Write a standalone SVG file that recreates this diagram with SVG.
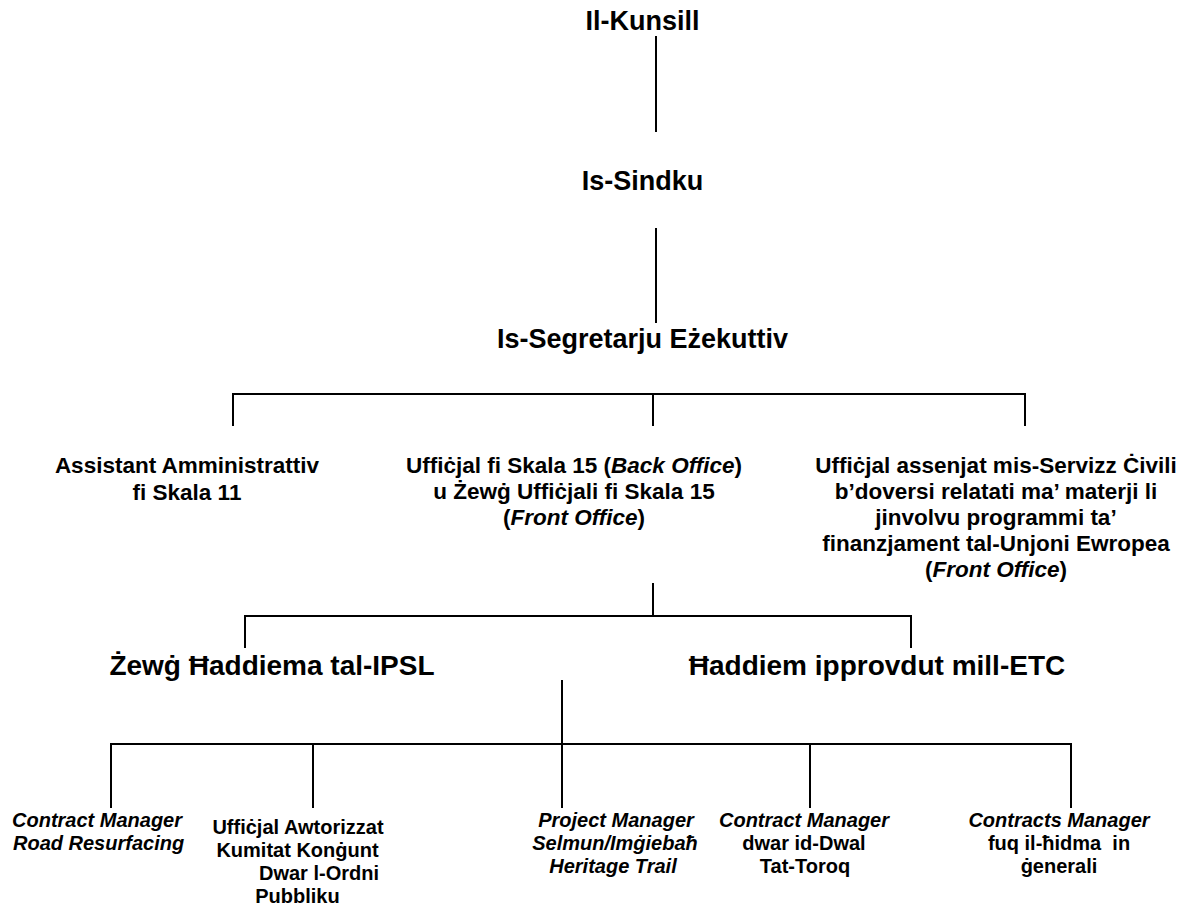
<svg xmlns="http://www.w3.org/2000/svg" width="1191" height="909" viewBox="0 0 1191 909">
<style>
  text { font-family: "Liberation Sans", Arial, sans-serif; font-weight: bold; fill: #000; white-space: pre; }
  .t1 { font-size: 27px; text-anchor: middle; }
  .t3 { font-size: 22.5px; text-anchor: middle; }
  .t4 { font-size: 28px; text-anchor: middle; }
  .t5 { font-size: 20px; text-anchor: middle; }
  .it { font-style: italic; }
  .conn line { stroke: #000; stroke-width: 2; fill: none; }
</style>
<rect width="1191" height="909" fill="#fff"/>
<g id="connectors" class="conn">
  <line x1="656" y1="36" x2="656" y2="132"/>
  <line x1="656" y1="228" x2="656" y2="323"/>
  <line x1="232" y1="394" x2="1026" y2="394"/>
  <line x1="233" y1="394" x2="233" y2="426"/>
  <line x1="653" y1="394" x2="653" y2="426"/>
  <line x1="1025" y1="394" x2="1025" y2="426"/>
  <line x1="653" y1="583" x2="653" y2="616"/>
  <line x1="244" y1="616" x2="912" y2="616"/>
  <line x1="245" y1="616" x2="245" y2="648"/>
  <line x1="911" y1="616" x2="911" y2="648"/>
  <line x1="562" y1="680" x2="562" y2="744"/>
  <line x1="110" y1="744" x2="1072" y2="744"/>
  <line x1="111" y1="744" x2="111" y2="808"/>
  <line x1="313" y1="744" x2="313" y2="808"/>
  <line x1="562" y1="744" x2="562" y2="808"/>
  <line x1="810" y1="744" x2="810" y2="808"/>
  <line x1="1071" y1="744" x2="1071" y2="808"/>
</g>
<g id="kunsill"><text class="t1" x="642.5" y="30">Il-Kunsill</text></g>
<g id="sindku"><text class="t1" x="642.5" y="190">Is-Sindku</text></g>
<g id="segretarju"><text class="t1" x="642.5" y="348">Is-Segretarju Eżekuttiv</text></g>
<g id="assistant">
  <text class="t3" x="187" y="473">Assistant Amministrattiv</text>
  <text class="t3" x="187" y="500">fi Skala 11</text>
</g>
<g id="ufficjal15">
  <text class="t3" x="574" y="473">Uffiċjal fi Skala 15 (<tspan class="it">Back Office</tspan>)</text>
  <text class="t3" x="574" y="499">u Żewġ Uffiċjali fi Skala 15</text>
  <text class="t3" x="574" y="525">(<tspan class="it">Front Office</tspan>)</text>
</g>
<g id="ufficjal-assenjat">
  <text class="t3" x="996" y="473">Uffiċjal assenjat mis-Servizz Ċivili</text>
  <text class="t3" x="996" y="499">b’doversi relatati ma’ materji li</text>
  <text class="t3" x="996" y="525">jinvolvu programmi ta’</text>
  <text class="t3" x="996" y="551">finanzjament tal-Unjoni Ewropea</text>
  <text class="t3" x="996" y="577">(<tspan class="it">Front Office</tspan>)</text>
</g>
<g id="ipsl"><text class="t4" x="272" y="675">Żewġ Ħaddiema tal-IPSL</text></g>
<g id="etc"><text class="t4" x="877" y="675">Ħaddiem ipprovdut mill-ETC</text></g>
<g id="road">
  <text class="t5 it" x="12" y="827" style="text-anchor:start">Contract Manager</text>
  <text class="t5 it" x="13" y="850" style="text-anchor:start">Road Resurfacing</text>
</g>
<g id="kumitat">
  <text class="t5" x="298" y="834">Uffiċjal Awtorizzat</text>
  <text class="t5" x="297.5" y="857">Kumitat Konġunt</text>
  <text class="t5" x="319" y="880">Dwar l-Ordni</text>
  <text class="t5" x="297.5" y="903">Pubbliku</text>
</g>
<g id="heritage">
  <text class="t5 it" x="616" y="827">Project Manager</text>
  <text class="t5 it" x="615" y="850">Selmun/Imġiebaħ</text>
  <text class="t5 it" x="613" y="873">Heritage Trail</text>
</g>
<g id="toroq">
  <text class="t5 it" x="804" y="827">Contract Manager</text>
  <text class="t5" x="804" y="850">dwar id-Dwal</text>
  <text class="t5" x="805" y="873">Tat-Toroq</text>
</g>
<g id="generali">
  <text class="t5 it" x="1059" y="827">Contracts Manager</text>
  <text class="t5" x="1059" y="850">fuq il-ħidma  in</text>
  <text class="t5" x="1059" y="873">ġenerali</text>
</g>
</svg>
